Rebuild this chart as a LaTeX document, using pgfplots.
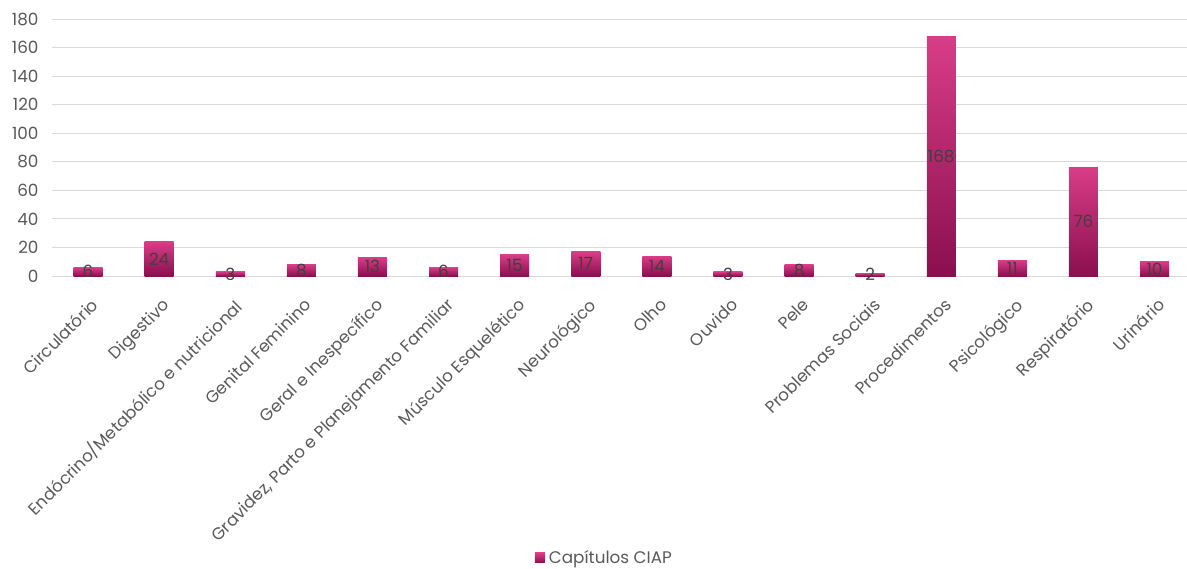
\documentclass[border=0pt]{standalone}
\usepackage{pgfplots}
\pgfplotsset{compat=1.18}
\usepackage{pgfplotstable}
\usepackage{fontspec}
\setmainfont{Poppins}
\definecolor{pinkTop}{HTML}{D93D88}
\definecolor{pinkBot}{HTML}{8A0F4E}
\definecolor{pinkMid}{HTML}{C02A72}
\definecolor{tickgray}{HTML}{595959}
\definecolor{labgray}{HTML}{404040}
\definecolor{gridgray}{HTML}{D9D9D9}
\pgfplotstableread{
x v
0 6
1 24
2 3
3 8
4 13
5 6
6 15
7 17
8 14
9 3
10 8
11 2
12 168
13 11
14 76
15 10
}\datatable
\newcommand{\ft}{\fontsize{8.4}{9.5}\selectfont}
\pgfplotsset{pbar/.style={ybar, bar width=14.5pt, bar shift=0pt, draw=none, top color=pinkTop, bottom color=pinkBot, forget plot}}
\begin{document}
\ft
\begin{tikzpicture}
\useasboundingbox (-26.25pt,-146pt) rectangle (567.25pt,138pt);
\begin{axis}[
  scale only axis,
  width=568.8pt, height=128.5pt,
  xmin=-0.5, xmax=15.5,
  ymin=0, ymax=180,
  ytick={0,20,...,180},
  xtick={0,...,15},
  xticklabels={Circulatório,Digestivo,Endócrino/Metabólico e nutricional,Genital Feminino,Geral e Inespecífico,{Gravidez, Parto e Planejamento Familiar},Músculo Esquelético,Neurológico,Olho,Ouvido,Pele,Problemas Sociais,Procedimentos,Psicológico,Respiratório,Urinário},
  xticklabel style={rotate=45, anchor=north east, font=\ft, text=tickgray, inner sep=1pt, xshift=-5.5pt, yshift=-7pt},
  yticklabel style={font=\ft, text=tickgray, xshift=-4pt},
  /pgf/number format/assume math mode=true,
  /pgf/number format/1000 sep={},
  major tick length=0pt,
  ymajorgrids,
  grid style={gridgray, line width=0.5pt},
  axis lines*=left,
  axis line style={draw=none},
  clip=false,
  legend style={at={(0.486,-1.097)}, anchor=center, draw=none, fill=none, font=\ft, text=tickgray, inner sep=0pt},
  legend image code/.code={\fill[pinkMid] (0pt,-2.5pt) rectangle (5pt,2.5pt);},
]
\addplot[pbar, forget plot=false] coordinates {(0,6)};
\addlegendentry{Capítulos CIAP}
\addplot[pbar] coordinates {(1,24)};
\addplot[pbar] coordinates {(2,3)};
\addplot[pbar] coordinates {(3,8)};
\addplot[pbar] coordinates {(4,13)};
\addplot[pbar] coordinates {(5,6)};
\addplot[pbar] coordinates {(6,15)};
\addplot[pbar] coordinates {(7,17)};
\addplot[pbar] coordinates {(8,14)};
\addplot[pbar] coordinates {(9,3)};
\addplot[pbar] coordinates {(10,8)};
\addplot[pbar] coordinates {(11,2)};
\addplot[pbar] coordinates {(12,168)};
\addplot[pbar] coordinates {(13,11)};
\addplot[pbar] coordinates {(14,76)};
\addplot[pbar] coordinates {(15,10)};
\addplot[only marks, mark=none, nodes near coords, point meta=explicit symbolic,
  every node near coord/.style={anchor=center, text=labgray, font=\ft}, forget plot]
  table[x=x, y expr=\thisrow{v}/2, meta=v] {\datatable};
\end{axis}
\end{tikzpicture}
\end{document}
